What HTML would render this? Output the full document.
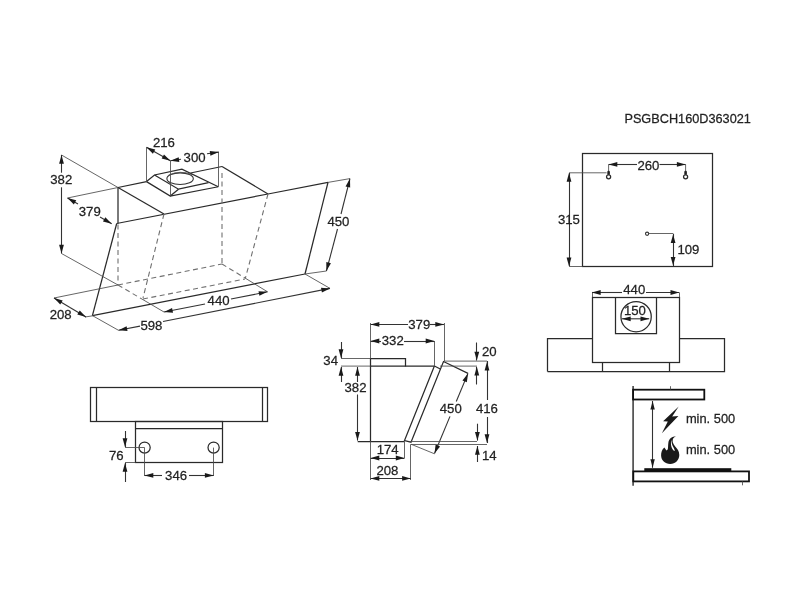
<!DOCTYPE html>
<html><head><meta charset="utf-8"><style>
html,body{margin:0;padding:0;background:#fff;width:800px;height:600px;overflow:hidden}
svg{display:block}
text{font-family:"Liberation Sans",sans-serif;fill:#222;stroke:#222;stroke-width:0.25}
svg{filter:grayscale(1)}
</style></head><body>
<svg width="800" height="600" viewBox="0 0 800 600">
<rect width="800" height="600" fill="#fff"/>
<line x1="118" y1="187.5" x2="146.5" y2="181.6" stroke="#2a2a2a" stroke-width="1.25"/>
<line x1="190.5" y1="173" x2="222" y2="166.5" stroke="#2a2a2a" stroke-width="1.25"/>
<line x1="222" y1="166.5" x2="268" y2="194" stroke="#2a2a2a" stroke-width="1.25"/>
<line x1="268" y1="194" x2="328" y2="182.4" stroke="#2a2a2a" stroke-width="1.25"/>
<line x1="328" y1="182.4" x2="305" y2="274" stroke="#2a2a2a" stroke-width="1.25"/>
<line x1="118" y1="187.5" x2="164" y2="214" stroke="#2a2a2a" stroke-width="1.25"/>
<line x1="118" y1="187.5" x2="118" y2="223.5" stroke="#2a2a2a" stroke-width="1.25"/>
<line x1="116.7" y1="223.5" x2="268" y2="194" stroke="#2a2a2a" stroke-width="1.25"/>
<line x1="116.7" y1="223.5" x2="92.4" y2="315.6" stroke="#2a2a2a" stroke-width="1.25"/>
<line x1="92.4" y1="315.6" x2="305" y2="274" stroke="#2a2a2a" stroke-width="1.25"/>
<polyline points="146.5,181.6 154.5,175 181.9,169.1 218.3,186.75" fill="none" stroke="#2a2a2a" stroke-width="1.25"/>
<polyline points="146.5,181.6 170.25,196.1 218.3,186.75" fill="none" stroke="#2a2a2a" stroke-width="1.25"/>
<polyline points="154.5,175 178.5,189.2 208.5,182.6" fill="none" stroke="#2a2a2a" stroke-width="1.25"/>
<line x1="178.5" y1="189.2" x2="170.25" y2="196.1" stroke="#2a2a2a" stroke-width="1.25"/>
<ellipse cx="180.1" cy="178.7" rx="13.2" ry="5.8" fill="none" stroke="#333" stroke-width="1.1"/>
<path d="M168.5,175.2 Q180,169.8 192,174.5" fill="none" stroke="#4a4a4a" stroke-width="0.85"/>
<line x1="118" y1="224.5" x2="118" y2="285" stroke="#707070" stroke-width="1.1" stroke-dasharray="5,3.5"/>
<line x1="222" y1="173" x2="222" y2="264" stroke="#707070" stroke-width="1.1" stroke-dasharray="5,3.5"/>
<line x1="268" y1="194" x2="245.4" y2="278.1" stroke="#707070" stroke-width="1.1" stroke-dasharray="5,3.5"/>
<line x1="164" y1="214" x2="143" y2="298" stroke="#707070" stroke-width="1.1" stroke-dasharray="5,3.5"/>
<line x1="118" y1="285" x2="222" y2="264" stroke="#707070" stroke-width="1.1" stroke-dasharray="5,3.5"/>
<line x1="143" y1="299" x2="245" y2="279" stroke="#707070" stroke-width="1.1" stroke-dasharray="5,3.5"/>
<line x1="118" y1="285" x2="141" y2="298.5" stroke="#707070" stroke-width="1.1" stroke-dasharray="5,3.5"/>
<line x1="222" y1="264" x2="245" y2="278" stroke="#707070" stroke-width="1.1" stroke-dasharray="5,3.5"/>
<line x1="61.5" y1="155" x2="118" y2="187.5" stroke="#4a4a4a" stroke-width="0.85"/>
<line x1="61.5" y1="253.5" x2="118" y2="285" stroke="#4a4a4a" stroke-width="0.85"/>
<line x1="61.5" y1="172.7" x2="61.5" y2="155" stroke="#333" stroke-width="1.1"/>
<polygon points="61.50,155.00 63.90,163.70 59.10,163.70" fill="#1a1a1a"/>
<line x1="61.5" y1="187.3" x2="61.5" y2="253.5" stroke="#333" stroke-width="1.1"/>
<polygon points="61.50,253.50 59.10,244.80 63.90,244.80" fill="#1a1a1a"/>
<text transform="translate(50.22,183.96) scale(0.985,1)" text-anchor="start" font-size="13.4">382</text>
<line x1="67.5" y1="198" x2="118" y2="187.5" stroke="#4a4a4a" stroke-width="0.85"/>
<line x1="78" y1="204" x2="67.5" y2="198" stroke="#333" stroke-width="1.1"/>
<polygon points="67.50,198.00 76.24,200.23 73.86,204.40" fill="#1a1a1a"/>
<line x1="100" y1="217" x2="111.7" y2="223.7" stroke="#333" stroke-width="1.1"/>
<polygon points="111.70,223.70 102.96,221.46 105.34,217.29" fill="#1a1a1a"/>
<text transform="translate(78.75,215.62) scale(0.985,1)" text-anchor="start" font-size="13.4">379</text>
<line x1="54" y1="298" x2="118" y2="285" stroke="#4a4a4a" stroke-width="0.85"/>
<line x1="85" y1="317" x2="92.7" y2="315.8" stroke="#4a4a4a" stroke-width="0.85"/>
<line x1="70" y1="307.5" x2="54" y2="298" stroke="#333" stroke-width="1.1"/>
<polygon points="54.00,298.00 62.71,300.38 60.26,304.51" fill="#1a1a1a"/>
<line x1="70" y1="307.5" x2="86" y2="317" stroke="#333" stroke-width="1.1"/>
<polygon points="86.00,317.00 77.29,314.62 79.74,310.49" fill="#1a1a1a"/>
<text transform="translate(49.64,319.30) scale(0.985,1)" text-anchor="start" font-size="13.4">208</text>
<line x1="92.4" y1="315.6" x2="118.5" y2="330.3" stroke="#4a4a4a" stroke-width="0.85"/>
<line x1="305" y1="274" x2="330" y2="288.4" stroke="#4a4a4a" stroke-width="0.85"/>
<line x1="140" y1="326.1" x2="118.5" y2="330.3" stroke="#333" stroke-width="1.1"/>
<polygon points="118.50,330.30 126.58,326.28 127.50,330.99" fill="#1a1a1a"/>
<line x1="163" y1="321.5" x2="330" y2="288.4" stroke="#333" stroke-width="1.1"/>
<polygon points="330.00,288.40 321.93,292.45 321.00,287.74" fill="#1a1a1a"/>
<text transform="translate(140.38,329.64) scale(0.985,1)" text-anchor="start" font-size="13.4">598</text>
<line x1="141" y1="298.5" x2="164" y2="312" stroke="#4a4a4a" stroke-width="0.85"/>
<line x1="245" y1="278" x2="267.5" y2="291.8" stroke="#4a4a4a" stroke-width="0.85"/>
<line x1="205" y1="304" x2="164" y2="312" stroke="#333" stroke-width="1.1"/>
<polygon points="164.00,312.00 172.08,307.98 173.00,312.69" fill="#1a1a1a"/>
<line x1="231" y1="299" x2="267.5" y2="291.8" stroke="#333" stroke-width="1.1"/>
<polygon points="267.50,291.80 259.43,295.84 258.50,291.13" fill="#1a1a1a"/>
<text transform="translate(207.58,305.20) scale(0.985,1)" text-anchor="start" font-size="13.4">440</text>
<line x1="328" y1="182.4" x2="350" y2="178.6" stroke="#4a4a4a" stroke-width="0.85"/>
<line x1="305" y1="274" x2="326.4" y2="271" stroke="#4a4a4a" stroke-width="0.85"/>
<line x1="341" y1="214" x2="350" y2="178.6" stroke="#333" stroke-width="1.1"/>
<polygon points="350.00,178.60 350.18,187.62 345.53,186.44" fill="#1a1a1a"/>
<line x1="337.5" y1="229" x2="326.4" y2="271" stroke="#333" stroke-width="1.1"/>
<polygon points="326.40,271.00 326.30,261.98 330.94,263.20" fill="#1a1a1a"/>
<text transform="translate(327.38,225.54) scale(0.985,1)" text-anchor="start" font-size="13.4">450</text>
<line x1="146.5" y1="147.3" x2="146.5" y2="181.6" stroke="#4a4a4a" stroke-width="0.85"/>
<line x1="146.5" y1="147.3" x2="170.4" y2="160.8" stroke="#333" stroke-width="1.1"/>
<polygon points="146.50,147.30 155.26,149.49 152.89,153.67" fill="#1a1a1a"/>
<polygon points="170.40,160.80 161.64,158.61 164.01,154.43" fill="#1a1a1a"/>
<text transform="translate(152.96,146.78) scale(0.985,1)" text-anchor="start" font-size="13.4">216</text>
<line x1="170.5" y1="160.8" x2="170.5" y2="196.1" stroke="#4a4a4a" stroke-width="0.85"/>
<line x1="218.5" y1="151.8" x2="218.5" y2="186.75" stroke="#4a4a4a" stroke-width="0.85"/>
<line x1="181" y1="159.3" x2="170.4" y2="160.8" stroke="#333" stroke-width="1.1"/>
<polygon points="170.40,160.80 178.68,157.20 179.35,161.96" fill="#1a1a1a"/>
<line x1="207" y1="153.8" x2="218.7" y2="152.1" stroke="#333" stroke-width="1.1"/>
<polygon points="218.70,152.10 210.44,155.73 209.75,150.98" fill="#1a1a1a"/>
<text transform="translate(183.58,162.08) scale(0.985,1)" text-anchor="start" font-size="13.4">300</text>
<rect x="90.5" y="387.5" width="177.0" height="34.0" fill="none" stroke="#2a2a2a" stroke-width="1.25"/>
<line x1="96.5" y1="387.5" x2="96.5" y2="421.5" stroke="#2a2a2a" stroke-width="1.25"/>
<line x1="262.5" y1="387.5" x2="262.5" y2="421.5" stroke="#2a2a2a" stroke-width="1.25"/>
<rect x="135.5" y="421.5" width="87.0" height="41.0" fill="none" stroke="#2a2a2a" stroke-width="1.25"/>
<line x1="135.4" y1="428.5" x2="222.4" y2="428.5" stroke="#2a2a2a" stroke-width="1.25"/>
<circle cx="144.6" cy="447.6" r="5.6" fill="none" stroke="#2a2a2a" stroke-width="1.25"/>
<circle cx="213.6" cy="447.6" r="5.6" fill="none" stroke="#2a2a2a" stroke-width="1.25"/>
<line x1="125" y1="447.5" x2="144.6" y2="447.5" stroke="#4a4a4a" stroke-width="0.85"/>
<line x1="125" y1="462.5" x2="135.4" y2="462.5" stroke="#4a4a4a" stroke-width="0.85"/>
<line x1="125.5" y1="431" x2="125.5" y2="447" stroke="#333" stroke-width="1.1"/>
<polygon points="125.00,447.00 122.60,438.30 127.40,438.30" fill="#1a1a1a"/>
<line x1="125.5" y1="482" x2="125.5" y2="463" stroke="#333" stroke-width="1.1"/>
<polygon points="125.00,463.00 127.40,471.70 122.60,471.70" fill="#1a1a1a"/>
<text transform="translate(108.90,459.83) scale(0.985,1)" text-anchor="start" font-size="13.4">76</text>
<line x1="144.5" y1="447.6" x2="144.5" y2="476" stroke="#4a4a4a" stroke-width="0.85"/>
<line x1="213.5" y1="447.6" x2="213.5" y2="476" stroke="#4a4a4a" stroke-width="0.85"/>
<line x1="162" y1="475.5" x2="144.6" y2="475.5" stroke="#333" stroke-width="1.1"/>
<polygon points="144.60,475.40 153.30,473.00 153.30,477.80" fill="#1a1a1a"/>
<line x1="189" y1="475.5" x2="213.6" y2="475.5" stroke="#333" stroke-width="1.1"/>
<polygon points="213.60,475.40 204.90,477.80 204.90,473.00" fill="#1a1a1a"/>
<text transform="translate(165.10,480.16) scale(0.985,1)" text-anchor="start" font-size="13.4">346</text>
<line x1="370.5" y1="323" x2="370.5" y2="441.3" stroke="#4a4a4a" stroke-width="0.85"/>
<line x1="370.5" y1="366" x2="370.5" y2="441.3" stroke="#2a2a2a" stroke-width="1.25"/>
<line x1="357.7" y1="441.5" x2="404.5" y2="441.5" stroke="#2a2a2a" stroke-width="1.25"/>
<line x1="370.6" y1="366.1" x2="434.4" y2="366.1" stroke="#2a2a2a" stroke-width="1.25"/>
<polyline points="370.5,366.5 370.5,358.5 405.5,358.5 405.5,366.5" fill="none" stroke="#2a2a2a" stroke-width="1.25"/>
<polyline points="434.4,366 404.5,440.5 411,442.2 443.5,361.5 468,373.4" fill="none" stroke="#2a2a2a" stroke-width="1.25"/>
<line x1="434.4" y1="366" x2="440.3" y2="369" stroke="#2a2a2a" stroke-width="1.25"/>
<line x1="411" y1="444.2" x2="434.5" y2="453.8" stroke="#4a4a4a" stroke-width="0.85"/>
<line x1="444.5" y1="323" x2="444.5" y2="361" stroke="#4a4a4a" stroke-width="0.85"/>
<line x1="408" y1="324.5" x2="370.6" y2="324.5" stroke="#333" stroke-width="1.1"/>
<polygon points="370.60,324.40 379.30,322.00 379.30,326.80" fill="#1a1a1a"/>
<line x1="430" y1="324.5" x2="444" y2="324.5" stroke="#333" stroke-width="1.1"/>
<polygon points="444.00,324.40 435.30,326.80 435.30,322.00" fill="#1a1a1a"/>
<text transform="translate(408.28,329.08) scale(0.985,1)" text-anchor="start" font-size="13.4">379</text>
<line x1="434.5" y1="341" x2="434.5" y2="366" stroke="#4a4a4a" stroke-width="0.85"/>
<line x1="381" y1="341.5" x2="370.6" y2="341.5" stroke="#333" stroke-width="1.1"/>
<polygon points="370.60,341.00 379.30,338.60 379.30,343.40" fill="#1a1a1a"/>
<line x1="404" y1="341.5" x2="434.4" y2="341.5" stroke="#333" stroke-width="1.1"/>
<polygon points="434.40,341.00 425.70,343.40 425.70,338.60" fill="#1a1a1a"/>
<text transform="translate(381.74,345.00) scale(0.985,1)" text-anchor="start" font-size="13.4">332</text>
<line x1="341" y1="358.5" x2="370.6" y2="358.5" stroke="#4a4a4a" stroke-width="0.85"/>
<line x1="341" y1="366.1" x2="370.6" y2="366.1" stroke="#4a4a4a" stroke-width="0.85"/>
<line x1="341.5" y1="342" x2="341.5" y2="358" stroke="#333" stroke-width="1.1"/>
<polygon points="341.00,358.00 338.60,349.30 343.40,349.30" fill="#1a1a1a"/>
<line x1="341.5" y1="382" x2="341.5" y2="367" stroke="#333" stroke-width="1.1"/>
<polygon points="341.00,367.00 343.40,375.70 338.60,375.70" fill="#1a1a1a"/>
<text transform="translate(337.98,365.36) scale(0.985,1)" text-anchor="end" font-size="13.4">34</text>
<line x1="357.5" y1="382" x2="357.5" y2="367" stroke="#333" stroke-width="1.1"/>
<polygon points="357.50,367.00 359.90,375.70 355.10,375.70" fill="#1a1a1a"/>
<line x1="357.5" y1="394.5" x2="357.5" y2="440.6" stroke="#333" stroke-width="1.1"/>
<polygon points="357.50,440.60 355.10,431.90 359.90,431.90" fill="#1a1a1a"/>
<text transform="translate(344.54,392.30) scale(0.985,1)" text-anchor="start" font-size="13.4">382</text>
<line x1="444" y1="361.1" x2="487" y2="361.1" stroke="#4a4a4a" stroke-width="0.85"/>
<line x1="440" y1="366.1" x2="477" y2="366.1" stroke="#4a4a4a" stroke-width="0.85"/>
<line x1="476.5" y1="342.5" x2="476.5" y2="360.5" stroke="#333" stroke-width="1.1"/>
<polygon points="476.80,360.50 474.40,351.80 479.20,351.80" fill="#1a1a1a"/>
<line x1="476.5" y1="384.5" x2="476.5" y2="366.8" stroke="#333" stroke-width="1.1"/>
<polygon points="476.80,366.80 479.20,375.50 474.40,375.50" fill="#1a1a1a"/>
<text transform="translate(482.00,355.73) scale(0.985,1)" text-anchor="start" font-size="13.4">20</text>
<line x1="456.25" y1="401.5" x2="468" y2="373.4" stroke="#333" stroke-width="1.1"/>
<polygon points="468.00,373.40 466.86,382.35 462.43,380.50" fill="#1a1a1a"/>
<line x1="450" y1="416.4" x2="434.5" y2="453.5" stroke="#333" stroke-width="1.1"/>
<polygon points="434.50,453.50 435.64,444.55 440.07,446.40" fill="#1a1a1a"/>
<text transform="translate(439.76,413.14) scale(0.985,1)" text-anchor="start" font-size="13.4">450</text>
<line x1="487.5" y1="361" x2="487.5" y2="400" stroke="#333" stroke-width="1.1"/>
<polygon points="487.00,361.80 489.40,370.50 484.60,370.50" fill="#1a1a1a"/>
<line x1="487.5" y1="417" x2="487.5" y2="443" stroke="#333" stroke-width="1.1"/>
<polygon points="487.00,443.00 484.60,434.30 489.40,434.30" fill="#1a1a1a"/>
<text transform="translate(475.88,413.06) scale(0.985,1)" text-anchor="start" font-size="13.4">416</text>
<line x1="411" y1="441.5" x2="477" y2="441.5" stroke="#4a4a4a" stroke-width="0.85"/>
<line x1="411" y1="444.5" x2="487" y2="444.5" stroke="#4a4a4a" stroke-width="0.85"/>
<line x1="477.5" y1="423.7" x2="477.5" y2="440.6" stroke="#333" stroke-width="1.1"/>
<polygon points="477.40,440.60 475.00,431.90 479.80,431.90" fill="#1a1a1a"/>
<line x1="477.5" y1="462" x2="477.5" y2="446" stroke="#333" stroke-width="1.1"/>
<polygon points="477.40,446.00 479.80,454.70 475.00,454.70" fill="#1a1a1a"/>
<text transform="translate(481.93,460.24) scale(0.985,1)" text-anchor="start" font-size="13.4">14</text>
<line x1="370.5" y1="441.3" x2="370.5" y2="460" stroke="#4a4a4a" stroke-width="0.85"/>
<line x1="404.5" y1="441.3" x2="404.5" y2="458" stroke="#4a4a4a" stroke-width="0.85"/>
<line x1="370.6" y1="458.5" x2="404.5" y2="458.5" stroke="#333" stroke-width="1.1"/>
<polygon points="370.60,458.00 379.30,455.60 379.30,460.40" fill="#1a1a1a"/>
<polygon points="404.50,458.00 395.80,460.40 395.80,455.60" fill="#1a1a1a"/>
<text transform="translate(376.68,454.27) scale(0.985,1)" text-anchor="start" font-size="13.4">174</text>
<line x1="370.5" y1="460" x2="370.5" y2="480" stroke="#4a4a4a" stroke-width="0.85"/>
<line x1="410.5" y1="444.2" x2="410.5" y2="480" stroke="#4a4a4a" stroke-width="0.85"/>
<line x1="370.6" y1="478.5" x2="410.8" y2="478.5" stroke="#333" stroke-width="1.1"/>
<polygon points="370.60,478.40 379.30,476.00 379.30,480.80" fill="#1a1a1a"/>
<polygon points="410.80,478.40 402.10,480.80 402.10,476.00" fill="#1a1a1a"/>
<text transform="translate(376.41,475.12) scale(0.985,1)" text-anchor="start" font-size="13.4">208</text>
<text transform="translate(624.40,122.78) scale(0.95,1)" text-anchor="start" font-size="13.4">PSGBCH160D363021</text>
<rect x="582.5" y="153.5" width="130.0" height="113.0" fill="none" stroke="#2a2a2a" stroke-width="1.25"/>
<line x1="608.6" y1="164.4" x2="608.6" y2="171" stroke="#4a4a4a" stroke-width="0.85"/>
<line x1="685.6" y1="164.4" x2="685.6" y2="171" stroke="#4a4a4a" stroke-width="0.85"/>
<line x1="637" y1="164.5" x2="608.6" y2="164.5" stroke="#333" stroke-width="1.1"/>
<polygon points="608.60,164.40 617.30,162.00 617.30,166.80" fill="#1a1a1a"/>
<line x1="659.5" y1="164.5" x2="685.6" y2="164.5" stroke="#333" stroke-width="1.1"/>
<polygon points="685.60,164.40 676.90,166.80 676.90,162.00" fill="#1a1a1a"/>
<text transform="translate(637.39,169.60) scale(0.985,1)" text-anchor="start" font-size="13.4">260</text>
<rect x="607.3000000000001" y="170.8" width="2.6" height="4.4" rx="1.1" fill="#222"/>
<circle cx="608.6" cy="176.8" r="2.05" fill="#fff" stroke="#2a2a2a" stroke-width="1.25"/>
<rect x="684.3000000000001" y="170.8" width="2.6" height="4.4" rx="1.1" fill="#222"/>
<circle cx="685.6" cy="176.8" r="2.05" fill="#fff" stroke="#2a2a2a" stroke-width="1.25"/>
<line x1="569" y1="172.8" x2="606.6" y2="172.8" stroke="#4a4a4a" stroke-width="0.85"/>
<line x1="569.5" y1="173" x2="569.5" y2="266" stroke="#333" stroke-width="1.1"/>
<polygon points="569.00,173.00 571.40,181.70 566.60,181.70" fill="#1a1a1a"/>
<polygon points="569.00,266.20 566.60,257.50 571.40,257.50" fill="#1a1a1a"/>
<line x1="569" y1="266.5" x2="582.5" y2="266.5" stroke="#4a4a4a" stroke-width="0.85"/>
<text transform="translate(557.91,223.68) scale(0.985,1)" text-anchor="start" font-size="13.4">315</text>
<circle cx="647.1" cy="233.75" r="1.6" fill="none" stroke="#333" stroke-width="1.1"/>
<line x1="648.7" y1="233.5" x2="673.1" y2="233.5" stroke="#4a4a4a" stroke-width="0.85"/>
<line x1="673.5" y1="233.75" x2="673.5" y2="266" stroke="#333" stroke-width="1.1"/>
<polygon points="673.10,234.40 675.50,243.10 670.70,243.10" fill="#1a1a1a"/>
<polygon points="673.10,265.60 670.70,256.90 675.50,256.90" fill="#1a1a1a"/>
<text transform="translate(677.41,253.68) scale(0.985,1)" text-anchor="start" font-size="13.4">109</text>
<line x1="592.5" y1="292.5" x2="592.5" y2="297.2" stroke="#4a4a4a" stroke-width="0.85"/>
<line x1="679.5" y1="292.5" x2="679.5" y2="297.2" stroke="#4a4a4a" stroke-width="0.85"/>
<line x1="622" y1="292.5" x2="592" y2="292.5" stroke="#333" stroke-width="1.1"/>
<polygon points="592.00,292.50 600.70,290.10 600.70,294.90" fill="#1a1a1a"/>
<line x1="646" y1="292.5" x2="679.2" y2="292.5" stroke="#333" stroke-width="1.1"/>
<polygon points="679.20,292.50 670.50,294.90 670.50,290.10" fill="#1a1a1a"/>
<text transform="translate(623.29,294.04) scale(0.985,1)" text-anchor="start" font-size="13.4">440</text>
<polyline points="547.5,371.5 547.5,338.5 592.5,338.5" fill="none" stroke="#2a2a2a" stroke-width="1.25"/>
<polyline points="679.5,338.5 724.5,338.5 724.5,371.5 547.5,371.5" fill="none" stroke="#2a2a2a" stroke-width="1.25"/>
<rect x="592.5" y="297.5" width="87.0" height="65.0" fill="none" stroke="#2a2a2a" stroke-width="1.25"/>
<polyline points="615.5,297.5 615.5,333.5 656.5,333.5 656.5,297.5" fill="none" stroke="#2a2a2a" stroke-width="1.25"/>
<line x1="602.5" y1="362.8" x2="602.5" y2="371.7" stroke="#2a2a2a" stroke-width="1.25"/>
<line x1="669.5" y1="362.8" x2="669.5" y2="371.7" stroke="#2a2a2a" stroke-width="1.25"/>
<circle cx="636.1" cy="316.7" r="15.15" fill="none" stroke="#2a2a2a" stroke-width="1.25"/>
<line x1="622" y1="318.8" x2="649.2" y2="318.8" stroke="#333" stroke-width="1.1"/>
<polygon points="622.00,318.80 630.70,316.40 630.70,321.20" fill="#1a1a1a"/>
<polygon points="649.20,318.80 640.50,321.20 640.50,316.40" fill="#1a1a1a"/>
<text transform="translate(623.94,315.22) scale(0.985,1)" text-anchor="start" font-size="13.4">150</text>
<line x1="633.1" y1="386" x2="633.1" y2="485.8" stroke="#444" stroke-width="1.6"/>
<rect x="633.1" y="389.7" width="71.2" height="9.8" fill="none" stroke="#111" stroke-width="1.8"/>
<line x1="670.5" y1="386.2" x2="670.5" y2="389.6" stroke="#4a4a4a" stroke-width="0.85"/>
<rect x="633.3" y="471.4" width="115.7" height="10" fill="none" stroke="#111" stroke-width="1.8"/>
<rect x="644.3" y="468.2" width="87" height="3.2" fill="#111"/>
<line x1="742.5" y1="481.4" x2="742.5" y2="485.3" stroke="#4a4a4a" stroke-width="0.85"/>
<line x1="652.5" y1="401" x2="652.5" y2="467.8" stroke="#333" stroke-width="1.1"/>
<polygon points="652.60,401.00 654.80,409.50 650.40,409.50" fill="#1a1a1a"/>
<polygon points="652.60,467.80 650.40,459.30 654.80,459.30" fill="#1a1a1a"/>
<polygon points="678.7,406.5 663.1,421.2 667.8,421.4 661.9,433.2 678.4,416.1 672.2,416.5" fill="#1a1a1a"/>
<path d="M676.1,436.3 C672,436.6 669,438.6 668.4,442.5 C667.9,445.5 668.3,448 667.7,449.6 L666.4,450.6 L664.4,447.6 C662,449.5 661,452.5 661.1,455.6 C661.2,460.5 665,464 670.2,464 C675.3,464 679.3,460 679.3,455 C679.3,451 677.2,448.5 675.2,446.4 C673,444 672.2,441.6 672.8,439.5 C673.4,437.8 674.6,436.8 676.1,436.3 Z" fill="#1a1a1a"/>
<path d="M671.3,439.8 C670.6,443 670.9,446.6 672.4,449 C673.1,450.2 674,450.8 674.9,451.1 C674.6,449.6 673.9,448.2 673.1,446.8 C672,444.8 671.5,442.2 671.3,439.8 Z" fill="#fff"/>
<text transform="translate(685.91,423.18) scale(0.96,1)" text-anchor="start" font-size="13.4">min. 500</text>
<text transform="translate(685.91,453.78) scale(0.96,1)" text-anchor="start" font-size="13.4">min. 500</text>
</svg>
</body></html>
